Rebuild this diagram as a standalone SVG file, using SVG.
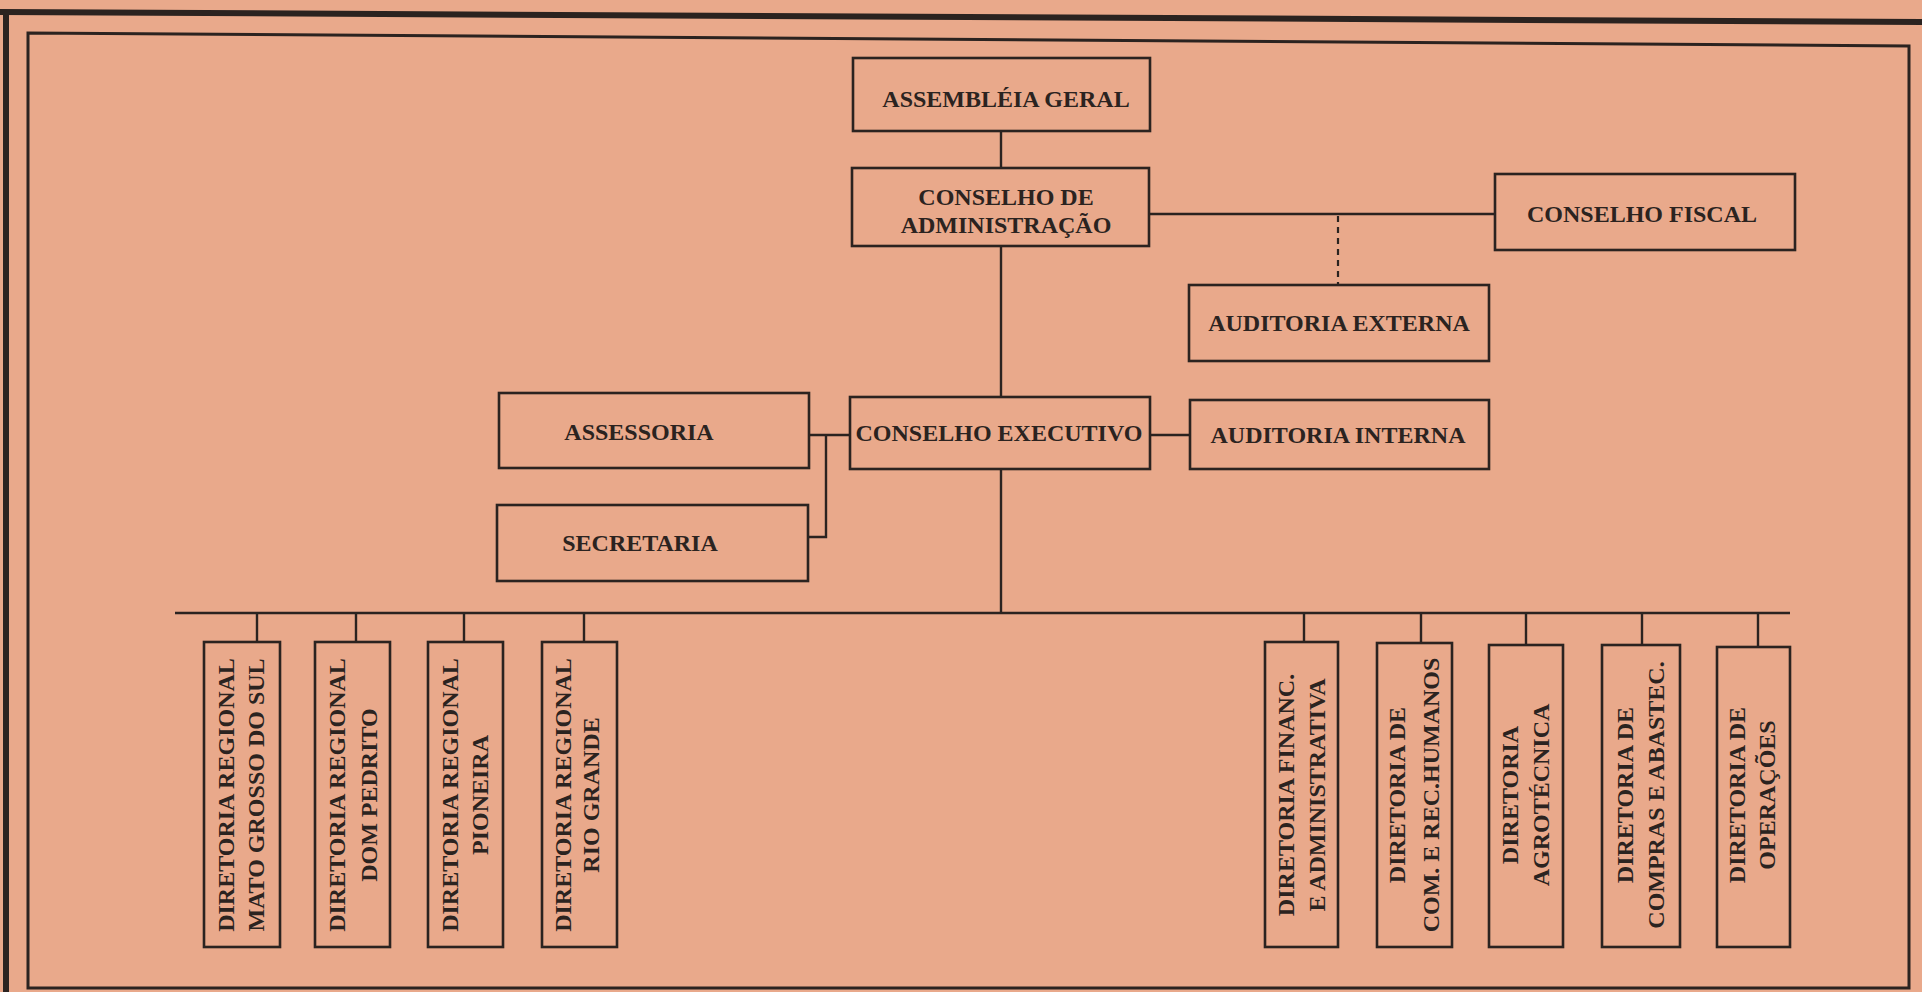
<svg xmlns="http://www.w3.org/2000/svg" width="1922" height="992" viewBox="0 0 1922 992">
<style>
.bg{fill:#e9a98b}
.frame{fill:none;stroke:#2b2320;stroke-linejoin:miter}
.box{fill:#e9a98b;stroke:#2b2320;stroke-width:2.6}
.c{fill:none;stroke:#2b2320;stroke-width:2.4}
.dot{fill:none;stroke:#2b2320;stroke-width:2.2;stroke-dasharray:6 5}
.t{font-family:"Liberation Serif","Times New Roman",serif;font-weight:bold;font-size:24px;fill:#2b2320;text-anchor:middle}
</style>
<rect class="bg" x="0" y="0" width="1922" height="992"/>
<g id="frame">
<path class="frame" stroke-width="6" d="M0 12 L1922 22"/>
<path class="frame" stroke-width="6" d="M6 10 V992"/>
<path class="frame" stroke-width="3" d="M28 988 V33 L1909 46 V988 Z"/>
</g>
<g id="connectors">
<path class="c" d="M1001 131 V168"/>
<path class="c" d="M1001 246 V397"/>
<path class="c" d="M1001 469 V613"/>
<path class="c" d="M1149 214 H1495"/>
<path class="dot" d="M1338 216 V285"/>
<path class="c" d="M809 435 H850"/>
<path class="c" d="M826 435 V537 H808"/>
<path class="c" d="M1150 435 H1190"/>
<path class="c" d="M175 613 H1790"/>
<path class="c" d="M257 613 V642 M356 613 V642 M464 613 V642 M584 613 V642 M1304 613 V642 M1421 613 V643 M1526 613 V645 M1642 613 V645 M1758 613 V647"/>
</g>
<g id="assembleia-geral">
<rect class="box" x="853" y="58" width="297" height="73"/>
<text class="t" x="1006" y="107">ASSEMBLÉIA GERAL</text>
</g>
<g id="conselho-administracao">
<rect class="box" x="852" y="168" width="297" height="78"/>
<text class="t" x="1006" y="205">CONSELHO DE</text>
<text class="t" x="1006" y="233">ADMINISTRAÇÃO</text>
</g>
<g id="conselho-fiscal">
<rect class="box" x="1495" y="174" width="300" height="76"/>
<text class="t" x="1642" y="222">CONSELHO FISCAL</text>
</g>
<g id="auditoria-externa">
<rect class="box" x="1189" y="285" width="300" height="76"/>
<text class="t" x="1339" y="331">AUDITORIA EXTERNA</text>
</g>
<g id="assessoria">
<rect class="box" x="499" y="393" width="310" height="75"/>
<text class="t" x="639" y="440">ASSESSORIA</text>
</g>
<g id="secretaria">
<rect class="box" x="497" y="505" width="311" height="76"/>
<text class="t" x="640" y="551">SECRETARIA</text>
</g>
<g id="conselho-executivo">
<rect class="box" x="850" y="397" width="300" height="72"/>
<text class="t" x="999" y="441">CONSELHO EXECUTIVO</text>
</g>
<g id="auditoria-interna">
<rect class="box" x="1190" y="400" width="299" height="69"/>
<text class="t" x="1338" y="443">AUDITORIA INTERNA</text>
</g>
<g id="dir-mato-grosso-do-sul">
<rect class="box" x="204" y="642" width="76" height="305"/>
<text class="t" transform="translate(234,795) rotate(-90)">DIRETORIA REGIONAL</text>
<text class="t" transform="translate(264,795) rotate(-90)">MATO GROSSO DO SUL</text>
</g>
<g id="dir-dom-pedrito">
<rect class="box" x="315" y="642" width="75" height="305"/>
<text class="t" transform="translate(345,795) rotate(-90)">DIRETORIA REGIONAL</text>
<text class="t" transform="translate(377,795) rotate(-90)">DOM PEDRITO</text>
</g>
<g id="dir-pioneira">
<rect class="box" x="428" y="642" width="75" height="305"/>
<text class="t" transform="translate(458,795) rotate(-90)">DIRETORIA REGIONAL</text>
<text class="t" transform="translate(488,795) rotate(-90)">PIONEIRA</text>
</g>
<g id="dir-rio-grande">
<rect class="box" x="542" y="642" width="75" height="305"/>
<text class="t" transform="translate(571,795) rotate(-90)">DIRETORIA REGIONAL</text>
<text class="t" transform="translate(599,795) rotate(-90)">RIO GRANDE</text>
</g>
<g id="dir-financ-administrativa">
<rect class="box" x="1265" y="642" width="73" height="305"/>
<text class="t" transform="translate(1294,795) rotate(-90)">DIRETORIA FINANC.</text>
<text class="t" transform="translate(1325,795) rotate(-90)">E ADMINISTRATIVA</text>
</g>
<g id="dir-com-rec-humanos">
<rect class="box" x="1377" y="643" width="75" height="304"/>
<text class="t" transform="translate(1405,795) rotate(-90)">DIRETORIA DE</text>
<text class="t" transform="translate(1439,795) rotate(-90)">COM. E REC.HUMANOS</text>
</g>
<g id="dir-agrotecnica">
<rect class="box" x="1489" y="645" width="74" height="302"/>
<text class="t" transform="translate(1518,795) rotate(-90)">DIRETORIA</text>
<text class="t" transform="translate(1549,795) rotate(-90)">AGROTÉCNICA</text>
</g>
<g id="dir-compras-abastec">
<rect class="box" x="1602" y="645" width="78" height="302"/>
<text class="t" transform="translate(1633,795) rotate(-90)">DIRETORIA DE</text>
<text class="t" transform="translate(1664,795) rotate(-90)">COMPRAS E ABASTEC.</text>
</g>
<g id="dir-operacoes">
<rect class="box" x="1717" y="647" width="73" height="300"/>
<text class="t" transform="translate(1745,795) rotate(-90)">DIRETORIA DE</text>
<text class="t" transform="translate(1775,795) rotate(-90)">OPERAÇÕES</text>
</g>
</svg>
